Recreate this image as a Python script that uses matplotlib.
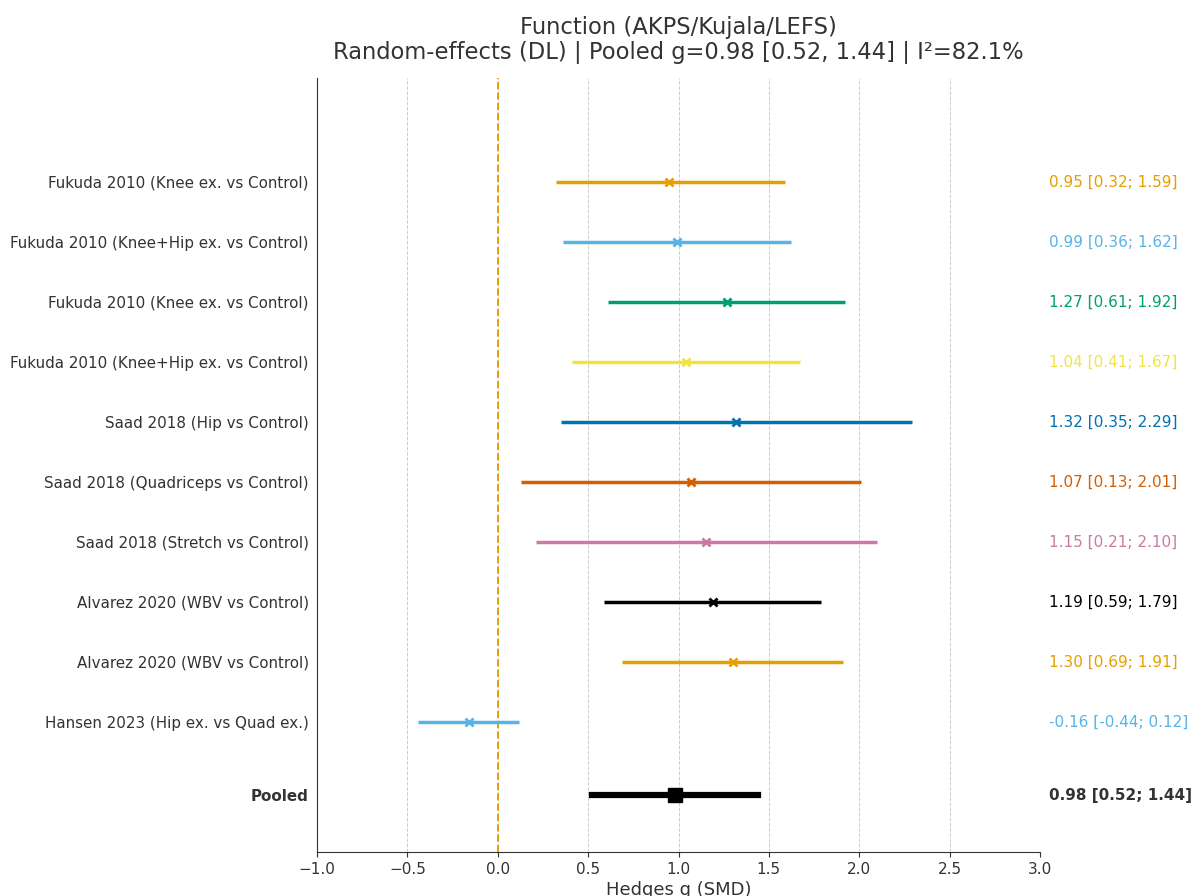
import matplotlib.pyplot as plt

# Study data
studies = [
    "Fukuda 2010 (Knee ex. vs Control)",
    "Fukuda 2010 (Knee+Hip ex. vs Control)",
    "Fukuda 2010 (Knee ex. vs Control)",
    "Fukuda 2010 (Knee+Hip ex. vs Control)",
    "Saad 2018 (Hip vs Control)",
    "Saad 2018 (Quadriceps vs Control)",
    "Saad 2018 (Stretch vs Control)",
    "Alvarez 2020 (WBV vs Control)",
    "Alvarez 2020 (WBV vs Control)",
    "Hansen 2023 (Hip ex. vs Quad ex.)",
]
g = [0.95, 0.99, 1.27, 1.04, 1.32, 1.07, 1.15, 1.19, 1.30, -0.16]
lo = [0.32, 0.36, 0.61, 0.41, 0.35, 0.13, 0.21, 0.59, 0.69, -0.44]
hi = [1.59, 1.62, 1.92, 1.67, 2.29, 2.01, 2.10, 1.79, 1.91, 0.12]
label_text = [
    "0.95 [0.32; 1.59]", "0.99 [0.36; 1.62]", "1.27 [0.61; 1.92]",
    "1.04 [0.41; 1.67]", "1.32 [0.35; 2.29]", "1.07 [0.13; 2.01]",
    "1.15 [0.21; 2.10]", "1.19 [0.59; 1.79]", "1.30 [0.69; 1.91]",
    "-0.16 [-0.44; 0.12]",
]
pooled_g, pooled_lo, pooled_hi = 0.98, 0.52, 1.44
pooled_text = "0.98 [0.52; 1.44]"
i2 = 82.1

colors = ["#E69F00", "#56B4E9", "#009E73", "#F0E442", "#0072B2",
          "#D55E00", "#CC79A7", "#000000", "#E69F00", "#56B4E9"]
text_col = "#333333"

fig = plt.figure(figsize=(12.03, 8.96), dpi=100)
ax = fig.add_axes([317 / 1203, 1 - 852 / 896, 723 / 1203, (852 - 78) / 896])

n = len(studies)
ys = [n - i for i in range(n)]
pooled_y = -0.22

ax.axvline(0, color="#E69F00", ls="--", lw=1.4, zorder=1.5)

for y, m, l, h, c, t in zip(ys, g, lo, hi, colors, label_text):
    ax.plot([l, h], [y, y], color=c, lw=2.5, solid_capstyle="butt", zorder=2)
    ax.plot(m, y, marker="x", color=c, ms=6, mew=2, zorder=3)
    ax.text(1.012, y, t, transform=ax.get_yaxis_transform(), color=c,
            va="center", ha="left", fontsize=11, clip_on=False)

ax.plot([pooled_lo, pooled_hi], [pooled_y, pooled_y], color="black", lw=4.5, zorder=2)
ax.plot(pooled_g, pooled_y, marker="s", color="black", ms=10, zorder=3)
ax.text(1.012, pooled_y, pooled_text, transform=ax.get_yaxis_transform(),
        color=text_col, va="center", ha="left", fontsize=11, fontweight="bold")

ax.set_xlim(-1.0, 3.0)
ax.set_ylim(-1.17, n + 1.73)
ax.set_xticks([-1.0, -0.5, 0.0, 0.5, 1.0, 1.5, 2.0, 2.5, 3.0])
ax.set_yticks(ys + [pooled_y])
ax.set_yticklabels(studies + ["Pooled"])
for lab in ax.get_yticklabels():
    lab.set_color(text_col)
    lab.set_fontsize(10.9)
ax.get_yticklabels()[-1].set_fontweight("bold")
ax.tick_params(axis="y", length=0, pad=6)
ax.tick_params(axis="x", labelsize=11, colors=text_col)

ax.grid(axis="x", ls="--", color="#cccccc", lw=0.7, zorder=0)
ax.set_axisbelow(True)
for s in ["top", "right"]:
    ax.spines[s].set_visible(False)
for s in ["left", "bottom"]:
    ax.spines[s].set_color(text_col)

ax.set_xlabel("Hedges g (SMD)", fontsize=13, color=text_col, labelpad=3)
ax.set_title("Function (AKPS/Kujala/LEFS)\nRandom-effects (DL) | Pooled g=%.2f [%.2f, %.2f] | I²=%.1f%%"
             % (pooled_g, pooled_lo, pooled_hi, i2),
             fontsize=16.3, color=text_col, pad=14, linespacing=1.1)

fig.savefig("out.png", dpi=100)
